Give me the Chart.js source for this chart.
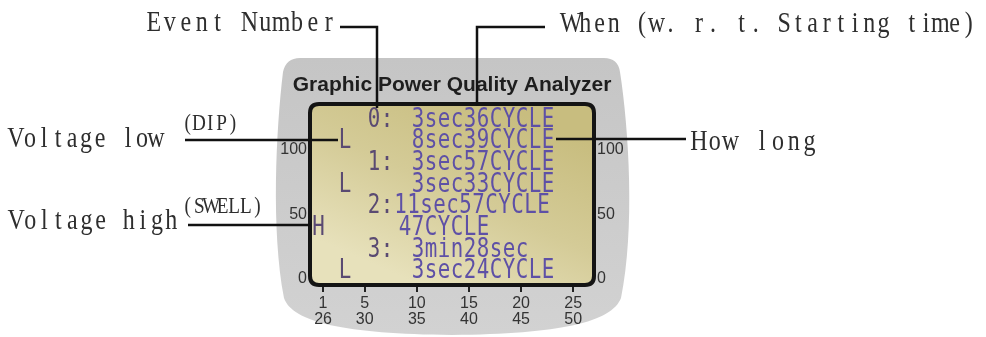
<!DOCTYPE html>
<html>
<head>
<meta charset="utf-8">
<title>Graphic Power Quality Analyzer</title>
<script src="https://cdn.jsdelivr.net/npm/chart.js@4.4.1/dist/chart.umd.min.js"></script>
<style>
  html, body { margin: 0; padding: 0; background: #fff; }
  canvas { display: block; }
</style>
</head>
<body>
<canvas id="myCanvas" width="986" height="337"></canvas>
<script>
// axis ticks of the screen
var yTicks = [0, 50, 100];
var xTicks = [1, 5, 10, 15, 20, 25];
var xTicks2 = [26, 30, 35, 40, 45, 50];

// events listed on the LCD
var eventNo = ["0:", "1:", "2:", "3:"];
var eventType = ["L", "L", "H", "L"];
var eventWhen = ["3sec36CYCLE", "3sec57CYCLE", "11sec57CYCLE", "3min28sec"];
var eventHowLong = ["8sec39CYCLE", "3sec33CYCLE", "47CYCLE", "3sec24CYCLE"];

var screenTitle = "Graphic Power Quality Analyzer";
var callouts = ["Event Number", "When (w. r. t. Starting time)", "Voltage low", "(DIP)", "Voltage high", "(SWELL)", "How long"];

// draws text in fixed cells, like a monospaced font
function monoText(ctx, str, x, y, cell, font, sx) {
    ctx.font = font;
    ctx.textAlign = "center";
    ctx.textBaseline = "alphabetic";
    for (var i = 0; i < str.length; i++) {
        ctx.save();
        ctx.translate(x + cell * (i + 0.5), y);
        ctx.scale(sx, 1);
        ctx.fillText(str[i], 0, 0);
        ctx.restore();
    }
}

function roundRect(ctx, x, y, w, h, r) {
    ctx.beginPath();
    ctx.moveTo(x + r, y);
    ctx.lineTo(x + w - r, y);
    ctx.quadraticCurveTo(x + w, y, x + w, y + r);
    ctx.lineTo(x + w, y + h - r);
    ctx.quadraticCurveTo(x + w, y + h, x + w - r, y + h);
    ctx.lineTo(x + r, y + h);
    ctx.quadraticCurveTo(x, y + h, x, y + h - r);
    ctx.lineTo(x, y + r);
    ctx.quadraticCurveTo(x, y, x + r, y);
    ctx.closePath();
}

var screenPlugin = {
    id: "screen",
    beforeDraw: function(chart) {
        var ctx = chart.ctx, ca = chart.chartArea;
        ctx.save();
        ctx.fillStyle = "#fff";
        ctx.fillRect(0, 0, chart.width, chart.height);

        // grey case of the meter
        var g = ctx.createLinearGradient(0, 58, 0, 334);
        g.addColorStop(0, "#c5c5c5");
        g.addColorStop(1, "#d2d2d2");
        ctx.fillStyle = g;
        ctx.beginPath();
        ctx.moveTo(300, 58);
        ctx.lineTo(604, 58);
        ctx.quadraticCurveTo(618, 58, 620, 72);
        ctx.bezierCurveTo(629, 130, 635, 230, 621, 298);
        ctx.bezierCurveTo(612, 322, 560, 334, 452, 335);
        ctx.bezierCurveTo(345, 334, 292, 322, 284, 298);
        ctx.bezierCurveTo(271, 230, 276, 130, 283, 72);
        ctx.quadraticCurveTo(286, 58, 300, 58);
        ctx.closePath();
        ctx.fill();

        // LCD background, darker at the top
        var lg = ctx.createLinearGradient(ca.left + 190, ca.top, ca.left + 110, ca.bottom);
        lg.addColorStop(0, "#c8bd7f");
        lg.addColorStop(0.5, "#d4cb97");
        lg.addColorStop(1, "#e7e1bb");
        ctx.fillStyle = lg;
        roundRect(ctx, ca.left, ca.top, ca.right - ca.left, ca.bottom - ca.top, 9);
        ctx.fill();
        ctx.restore();
    },
    afterDraw: function(chart) {
        var ctx = chart.ctx, ca = chart.chartArea;
        ctx.save();

        // LCD frame
        ctx.strokeStyle = "#141414";
        ctx.lineWidth = 4;
        roundRect(ctx, ca.left, ca.top, ca.right - ca.left, ca.bottom - ca.top, 9);
        ctx.stroke();

        // LCD lines, two rows per event
        var lcdFont = '26px "DejaVu Sans Mono", monospace';
        var cell = 13, rowH = 21.7;
        var whenX = [101.5, 101.5, 84, 101.5];
        var howX = [101.5, 101.5, 88.5, 101.5];
        for (var i = 0; i < eventNo.length; i++) {
            var y1 = ca.top + 13 + rowH * (2 * i) + 9.5;
            var y2 = ca.top + 13 + rowH * (2 * i + 1) + 9.5;
            ctx.fillStyle = "#5a4a72";
            monoText(ctx, eventNo[i], ca.left + 57.5, y1, cell, lcdFont, 0.8);
            monoText(ctx, eventType[i], ca.left + (eventType[i] === "H" ? 2 : 28.5), y2, cell, lcdFont, 0.8);
            ctx.fillStyle = "#5e50a6";
            monoText(ctx, eventWhen[i], ca.left + whenX[i], y1, cell, lcdFont, 0.8);
            monoText(ctx, eventHowLong[i], ca.left + howX[i], y2, cell, lcdFont, 0.8);
        }

        // title on the case
        ctx.fillStyle = "#1e1e1e";
        ctx.font = 'bold 21px "Liberation Sans", Arial, sans-serif';
        ctx.textAlign = "center";
        ctx.textBaseline = "alphabetic";
        ctx.fillText(screenTitle, (ca.left + ca.right) / 2, 91);

        // callout lines
        ctx.strokeStyle = "#111";
        ctx.lineWidth = 2.5;
        var lines = [
            [[340, 27], [377, 27], [377, 108]],
            [[545, 27], [477, 27], [477, 106]],
            [[185, 140], [338, 140]],
            [[188, 225], [311, 225]],
            [[556, 139], [686, 139]]
        ];
        lines.forEach(function(pts) {
            ctx.beginPath();
            ctx.moveTo(pts[0][0], pts[0][1]);
            for (var k = 1; k < pts.length; k++) ctx.lineTo(pts[k][0], pts[k][1]);
            ctx.stroke();
        });

        // callout texts
        ctx.fillStyle = "#2e2e2e";
        var serif = '"Liberation Serif", "DejaVu Serif", serif';
        var pos = [
            [146, 15.9, 31, 30],
            [564, 14.2, 32, 30],
            [9, 14, 147, 30],
            [182, 11.3, 130, 24],
            [9, 14.1, 229, 30],
            [182, 11.6, 213, 24],
            [691, 15.8, 150, 30]
        ];
        for (var j = 0; j < callouts.length; j++) {
            var p = pos[j];
            monoText(ctx, callouts[j], p[0], p[2], p[1], p[3] + "px " + serif, 0.8);
        }
        ctx.restore();
    }
};

var tickFont = { family: '"Liberation Sans", Arial, sans-serif', size: 16, lineHeight: 0.97 };

var ctx = document.getElementById("myCanvas").getContext("2d");
var chart = new Chart(ctx, {
    type: "scatter",
    data: { datasets: [] },
    options: {
        responsive: false,
        animation: false,
        devicePixelRatio: 1,
        layout: { padding: { top: 104, left: 0, right: 0, bottom: 0 } },
        plugins: {
            legend: { display: false },
            tooltip: { enabled: false },
            title: { display: false }
        },
        scales: {
            x: {
                type: "linear",
                position: "bottom",
                min: -0.25,
                max: 27,
                afterBuildTicks: function(s) {
                    s.ticks = xTicks.map(function(v) { return { value: v }; });
                },
                ticks: {
                    autoSkip: false,
                    maxRotation: 0,
                    padding: 4,
                    color: "#333",
                    font: tickFont,
                    callback: function(v, i) { return [String(xTicks[i]), String(xTicks2[i])]; }
                },
                grid: { drawOnChartArea: false, drawTicks: true, tickLength: 7, color: "#222", lineWidth: 2 },
                border: { display: false },
                afterFit: function(s) { s.height = 52; }
            },
            y: {
                type: "linear",
                position: "left",
                min: -5.1,
                max: 135.8,
                afterBuildTicks: function(s) {
                    s.ticks = yTicks.map(function(v) { return { value: v }; });
                },
                ticks: { padding: 3, color: "#333", font: tickFont },
                grid: { display: false, drawTicks: false },
                border: { display: false },
                afterFit: function(s) { s.width = 310; }
            },
            y2: {
                type: "linear",
                axis: "y",
                position: "right",
                min: -5.1,
                max: 135.8,
                afterBuildTicks: function(s) {
                    s.ticks = yTicks.map(function(v) { return { value: v }; });
                },
                ticks: { padding: 3, color: "#333", font: tickFont },
                grid: { display: false, drawTicks: false },
                border: { display: false },
                afterFit: function(s) { s.width = 392; }
            }
        }
    },
    plugins: [screenPlugin]
});
</script>
</body>
</html>
